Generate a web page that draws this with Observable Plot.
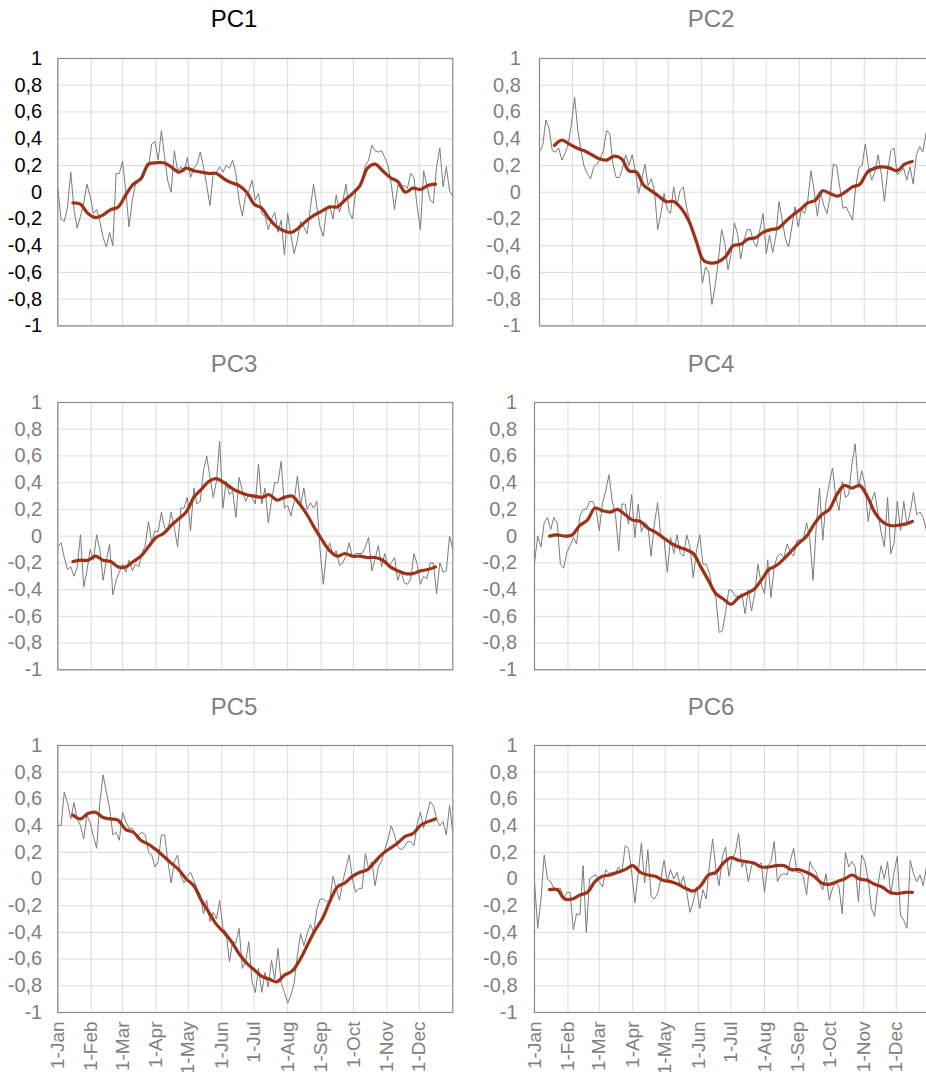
<!DOCTYPE html>
<html>
<head>
<meta charset="utf-8">
<script src="https://cdn.jsdelivr.net/npm/d3@7"></script>
<script src="https://cdn.jsdelivr.net/npm/@observablehq/plot@0.6"></script>
<style>
html, body { margin: 0; padding: 0; background: #fff; overflow: hidden; }
#chart { position: relative; width: 926px; height: 1072px; overflow: hidden; font-family: "Liberation Sans", Arial, sans-serif; }
.title { position: absolute; font-size: 24px; line-height: 24px; white-space: nowrap; transform: translateX(-50%); z-index: 2; }
.panel { position: absolute; z-index: 1; }
</style>
</head>
<body>
<div id="chart"></div>
<script>
// ---- Data ----
// Daily series sampled every 3 days from 1 Jan (leap year), smoothed series every 7 days from day 14.
const grayStepDays = 3;
const redStartDay = 14;
const redStepDays = 7;

const monthLabels = ["1-Jan","1-Feb","1-Mar","1-Apr","1-May","1-Jun","1-Jul","1-Aug","1-Sep","1-Oct","1-Nov","1-Dec"];
const yTicks = [-1, -0.8, -0.6, -0.4, -0.2, 0, 0.2, 0.4, 0.6, 0.8, 1];
const titles = ["PC1", "PC2", "PC3", "PC4", "PC5", "PC6"];

const pc1Gray = [0.03,-0.2,-0.22,-0.11,0.15,-0.13,-0.27,-0.18,-0.08,0.06,
-0.03,-0.16,-0.13,-0.22,-0.34,-0.41,-0.3,-0.4,0.14,0.14,
0.23,0.01,-0.26,-0.06,0.06,0.09,0.13,0.18,0.19,0.36,
0.38,0.24,0.46,0.26,0.08,0,0.31,0.16,0.19,0.15,
0.26,0.11,0.18,0.21,0.3,0.19,0.05,-0.1,0.14,0.15,
0.19,0.15,0.2,0.18,0.24,0.14,-0.06,-0.18,-0.02,0.01,
0.09,-0.06,-0.01,-0.16,-0.18,-0.28,-0.2,-0.15,-0.3,-0.21,
-0.47,-0.16,-0.32,-0.46,-0.36,-0.22,-0.26,-0.31,-0.12,0.06,
-0.11,-0.26,-0.33,-0.13,-0.1,-0.2,-0.02,-0.15,-0.07,0.06,
-0.15,-0.2,0,0.04,0.08,0.2,0.24,0.35,0.31,0.3,
0.31,0.26,0.2,0.06,-0.13,0.05,0.04,0.05,0.03,0.14,
0.11,-0.11,-0.28,0.16,0.05,-0.06,-0.08,0.19,0.33,0.04,
0.19,0.01,-0.03];
const pc1Red = [-0.08,-0.09,-0.16,-0.19,-0.17,-0.13,-0.11,-0.02,0.06,0.1,
0.21,0.22,0.22,0.19,0.15,0.18,0.16,0.15,0.14,0.14,
0.1,0.07,0.05,0,-0.09,-0.12,-0.2,-0.26,-0.29,-0.3,
-0.26,-0.21,-0.17,-0.14,-0.11,-0.11,-0.06,-0.01,0.05,0.18,
0.21,0.16,0.11,0.08,0,0.03,0.02,0.05,0.06];

const pc2Gray = [0.3,0.35,0.54,0.48,0.31,0.3,0.33,0.24,0.29,0.36,
0.51,0.71,0.46,0.31,0.19,0.14,0.1,0.19,0.21,0.25,
0.31,0.46,0.44,0.21,0.11,0.11,0.18,0.28,0.2,0.28,
0.16,-0.01,0.09,0.21,0.05,0.1,0.01,-0.28,-0.16,-0.01,
-0.13,-0.16,0.04,-0.1,0.01,0.04,-0.11,-0.21,-0.28,-0.38,
-0.41,-0.68,-0.56,-0.6,-0.84,-0.7,-0.51,-0.28,-0.38,-0.58,
-0.46,-0.23,-0.31,-0.5,-0.36,-0.28,-0.28,-0.37,-0.41,-0.28,
-0.16,-0.46,-0.32,-0.45,-0.33,-0.07,-0.21,-0.35,-0.41,-0.26,
-0.11,-0.26,-0.13,-0.16,-0.06,0.16,0.01,-0.18,0,-0.1,
-0.16,-0.03,0.21,0.2,0.04,-0.12,-0.11,-0.16,-0.21,0.04,
0.18,0.2,0.36,0.19,0.09,0.15,0.28,0.14,-0.07,0.16,
0.31,0.33,0.13,0.15,0.18,0.09,0.19,0.06,0.28,0.34,
0.3,0.44,0.46];
const pc2Red = [0.35,0.39,0.36,0.33,0.31,0.28,0.25,0.24,0.27,0.25,
0.16,0.15,0.05,0.01,-0.03,-0.07,-0.07,-0.12,-0.21,-0.36,
-0.51,-0.53,-0.52,-0.48,-0.4,-0.39,-0.35,-0.34,-0.3,-0.28,
-0.27,-0.22,-0.17,-0.13,-0.08,-0.06,0.01,-0.01,-0.03,0,
0.04,0.06,0.15,0.18,0.19,0.18,0.16,0.21,0.23];

const pc3Gray = [-0.08,-0.05,-0.16,-0.25,-0.23,-0.3,-0.23,0.01,-0.38,-0.26,
-0.1,-0.18,0.01,-0.1,-0.33,-0.18,-0.06,-0.44,-0.33,-0.27,
-0.21,-0.27,-0.18,-0.26,-0.21,-0.23,-0.13,-0.07,0.11,-0.05,
0.04,0.03,0.18,0.06,0.04,0.18,0.06,-0.08,0.21,0.21,
0.29,0.04,0.36,0.24,0.26,0.49,0.6,0.44,0.29,0.41,
0.71,0.21,0.41,0.31,0.34,0.14,0.44,0.34,0.26,0.31,
0.29,0.24,0.54,0.24,0.36,0.1,0.26,0.4,0.4,0.56,
0.21,0.23,0.15,0.26,0.45,0.23,0.36,0.2,0.25,0.21,
0.26,-0.1,-0.36,-0.12,-0.05,-0.15,-0.11,-0.22,-0.2,-0.15,
-0.05,-0.16,-0.13,-0.13,-0.13,-0.08,-0.01,-0.26,-0.17,-0.07,
-0.23,-0.13,-0.23,-0.2,-0.16,-0.33,-0.26,-0.35,-0.36,-0.32,
-0.13,-0.21,-0.36,-0.3,-0.32,-0.2,-0.2,-0.43,-0.2,-0.27,
-0.26,0,-0.1];
const pc3Red = [-0.19,-0.18,-0.18,-0.15,-0.18,-0.19,-0.23,-0.23,-0.19,-0.15,
-0.08,-0.01,0.02,0.08,0.13,0.18,0.29,0.35,0.41,0.43,
0.4,0.36,0.33,0.31,0.3,0.29,0.31,0.27,0.29,0.3,
0.24,0.16,0.06,-0.03,-0.11,-0.15,-0.13,-0.15,-0.15,-0.16,
-0.16,-0.18,-0.23,-0.26,-0.28,-0.28,-0.26,-0.25,-0.23];

const pc4Gray = [-0.2,0,-0.08,0.1,0.14,0.05,0.14,0.1,-0.21,-0.24,
-0.12,-0.07,-0.01,-0.06,0.15,0.2,0.2,0.26,0.26,0.2,
0.04,0.25,0.34,0.46,0.26,0.16,-0.11,0.24,0.24,0.09,
0.31,-0.01,0.24,0.03,0.1,0.08,-0.15,0.09,0.25,-0.01,
-0.02,-0.27,-0.01,-0.13,0.01,-0.13,-0.15,0.01,-0.08,-0.31,
-0.11,0.01,-0.21,-0.21,-0.28,-0.4,-0.46,-0.72,-0.71,-0.57,
-0.4,-0.41,-0.45,-0.45,-0.43,-0.58,-0.4,-0.56,-0.43,-0.21,
-0.36,-0.43,-0.18,-0.46,-0.23,-0.15,-0.13,-0.16,-0.06,-0.12,
-0.15,-0.03,-0.03,-0.02,0.1,-0.02,-0.33,0.08,0.36,-0.03,
0.26,0.39,0.51,0.3,0.19,0.41,0.29,0.31,0.54,0.69,
0.36,0.49,0.39,0.11,0.26,0.33,0.18,0.03,-0.08,0.29,
-0.13,-0.05,0.26,0.04,0.26,0.08,0.18,0.33,0.16,0.18,
0.14,0.04,0.01];
const pc4Red = [0,0.01,0,0.01,0.08,0.12,0.21,0.19,0.18,0.2,
0.16,0.12,0.11,0.06,0.03,-0.01,-0.05,-0.08,-0.1,-0.13,
-0.23,-0.33,-0.43,-0.47,-0.51,-0.46,-0.43,-0.4,-0.33,-0.25,
-0.22,-0.17,-0.11,-0.05,0,0.09,0.16,0.2,0.31,0.38,
0.36,0.38,0.3,0.18,0.11,0.08,0.08,0.09,0.11];

const pc5Gray = [0.4,0.4,0.65,0.57,0.45,0.57,0.45,0.4,0.3,0.48,
0.42,0.32,0.23,0.58,0.78,0.65,0.53,0.33,0.35,0.29,
0.5,0.43,0.38,0.38,0.33,0.33,0.35,0.33,0.2,0.18,
0.09,0.13,0.33,0.33,0.13,-0.03,0.13,0.18,0.02,-0.03,
0.02,0.05,-0.01,-0.07,-0.12,-0.26,-0.16,-0.32,-0.25,-0.3,
-0.16,-0.37,-0.4,-0.62,-0.47,-0.48,-0.37,-0.67,-0.62,-0.47,
-0.77,-0.85,-0.67,-0.85,-0.7,-0.81,-0.61,-0.75,-0.52,-0.78,
-0.85,-0.93,-0.87,-0.78,-0.57,-0.41,-0.5,-0.41,-0.34,-0.4,
-0.23,-0.15,-0.15,-0.17,-0.16,0.02,-0.07,-0.16,-0.02,0.08,
0.18,0,-0.1,-0.07,-0.07,0.19,0.08,0.13,-0.05,0.09,
0.13,0.22,0.3,0.4,0.33,0.24,0.22,0.24,0.28,0.28,
0.25,0.41,0.5,0.38,0.48,0.58,0.55,0.45,0.4,0.43,
0.33,0.55,0.35];
const pc5Red = [0.48,0.45,0.49,0.5,0.46,0.45,0.44,0.37,0.35,0.29,
0.26,0.22,0.17,0.12,0.07,0,-0.05,-0.16,-0.25,-0.34,
-0.4,-0.47,-0.56,-0.63,-0.68,-0.73,-0.75,-0.77,-0.72,-0.69,
-0.61,-0.5,-0.39,-0.3,-0.17,-0.06,-0.03,0.02,0.05,0.07,
0.13,0.19,0.23,0.27,0.32,0.34,0.4,0.43,0.45];

const pc6Gray = [-0.02,-0.37,-0.15,0.18,0,-0.02,-0.07,-0.07,-0.07,-0.15,
-0.1,-0.1,-0.38,-0.26,-0.27,0.1,-0.4,0,0.02,0.03,
-0.02,-0.06,0.07,0.04,0.05,0.05,0.09,0.05,0.25,0.23,
0.05,-0.18,0.04,0.27,-0.03,0.22,-0.13,-0.15,-0.11,0,
0.14,-0.02,0.07,0,0.05,-0.05,0.02,-0.1,-0.25,-0.17,
-0.06,-0.22,-0.08,-0.15,0.1,0.3,0.07,-0.05,0.17,0.24,
0.02,0.15,0.2,0.34,0.09,0.14,-0.02,0.1,0.13,0.1,
0.12,-0.1,0.1,0.13,0.28,-0.02,0.03,0.04,0.03,0.14,
0.23,0.05,0.05,0.02,-0.12,0.13,0.08,0.05,-0.03,-0.08,
0.04,-0.16,-0.07,-0.02,-0.06,-0.26,0.2,0.09,0.13,0.09,
-0.17,0.18,0.13,0,-0.22,-0.28,-0.05,0.1,0,0.13,
-0.12,0.05,0.17,-0.27,-0.31,-0.37,0.14,0.04,-0.02,0.03,
-0.05,0.09,0.09];
const pc6Red = [-0.08,-0.08,-0.15,-0.15,-0.12,-0.1,-0.02,0.02,0.03,0.05,
0.07,0.1,0.05,0.03,0.02,-0.01,-0.02,-0.04,-0.07,-0.09,
-0.05,0.03,0.05,0.12,0.16,0.14,0.13,0.12,0.09,0.09,
0.1,0.1,0.07,0.07,0.05,0.02,-0.03,-0.04,-0.02,0,
0.03,0,-0.01,-0.04,-0.06,-0.1,-0.11,-0.1,-0.1];

// ---- Layout ----
const grayColor = "#7a7a7a";
const redColor = "#9c3318";
const gridColor = "#dcdcdc";
const frameColor = "#8a8a8a";
const labelGray = "#7f7f7f";
const yTickFont = 20;
const xTickFont = 19;

const panels = [
  {gray: pc1Gray, red: pc1Red, left: 0,   titleX: 234, titleTop: 7,   plotTop: 58.3,  plotH: 267.4, mL: 57.3, plotW: 395,   pad: 15.6, ink: "#000", titleInk: "#000", xAxis: false},
  {gray: pc2Gray, red: pc2Red, left: 463, titleX: 711, titleTop: 7,   plotTop: 58.3,  plotH: 267.4, mL: 76,   plotW: 389.7, pad: 18.7, ink: labelGray, titleInk: labelGray, xAxis: false},
  {gray: pc3Gray, red: pc3Red, left: 0,   titleX: 234, titleTop: 352, plotTop: 401.7, plotH: 267.3, mL: 57.3, plotW: 395,   pad: 15.6, ink: labelGray, titleInk: labelGray, xAxis: false},
  {gray: pc4Gray, red: pc4Red, left: 463, titleX: 711, titleTop: 352, plotTop: 401.7, plotH: 267.3, mL: 71,   plotW: 395.2, pad: 17.5, ink: labelGray, titleInk: labelGray, xAxis: false},
  {gray: pc5Gray, red: pc5Red, left: 0,   titleX: 234, titleTop: 695, plotTop: 745.3, plotH: 267,   mL: 57.3, plotW: 395,   pad: 15.6, ink: labelGray, titleInk: labelGray, xAxis: true},
  {gray: pc6Gray, red: pc6Red, left: 463, titleX: 711, titleTop: 695, plotTop: 745.3, plotH: 267,   mL: 71,   plotW: 395.2, pad: 17.0, ink: labelGray, titleInk: labelGray, xAxis: true}
];

const t0 = Date.UTC(2020, 0, 1);
const dayMs = 86400000;
const xDomain = [new Date(t0), new Date(Date.UTC(2021, 0, 1))];
const monthDates = d3.utcMonths(new Date(t0), new Date(Date.UTC(2021, 0, 1)));

function fmt(v) {
  return String(Math.round(v * 10) / 10).replace(".", ",");
}

const chart = document.getElementById("chart");

panels.forEach((p, idx) => {
  const grayData = p.gray.map((v, i) => ({date: new Date(t0 + i * grayStepDays * dayMs), v}));
  const redData = p.red.map((v, k) => ({date: new Date(t0 + (redStartDay + k * redStepDays) * dayMs), v}));
  const marginTop = 20;
  const marginBottom = p.xAxis ? 80 : 10;
  const marginRight = 10;
  const width = p.mL + p.plotW + marginRight;
  const height = marginTop + p.plotH + marginBottom;

  const svg = Plot.plot({
    width, height,
    marginLeft: p.mL, marginRight, marginTop, marginBottom,
    style: {fontFamily: "'Liberation Sans', Arial, sans-serif", fontSize: yTickFont + "px", background: "white", overflow: "visible"},
    x: {type: "utc", domain: xDomain, axis: null},
    y: {domain: [-1, 1], axis: null},
    marks: [
      Plot.gridY(yTicks, {stroke: gridColor, strokeOpacity: 1, strokeWidth: 1}),
      Plot.gridX(monthDates, {stroke: gridColor, strokeOpacity: 1, strokeWidth: 1}),
      Plot.line(grayData, {x: "date", y: "v", stroke: grayColor, strokeWidth: 1}),
      Plot.line(redData, {x: "date", y: "v", stroke: redColor, strokeWidth: 3.2, curve: "catmull-rom"}),
      Plot.frame({stroke: frameColor, strokeWidth: 1.2}),
      Plot.axisY(yTicks, {tickSize: 0, tickPadding: p.pad, tickFormat: fmt, fill: p.ink, label: null, fontSize: yTickFont, fontVariant: "normal"}),
      p.xAxis ? Plot.axisX(monthDates, {tickSize: 0, tickRotate: -90, tickPadding: 9, tickFormat: d => monthLabels[d.getUTCMonth()], fill: labelGray, label: null, fontSize: xTickFont, fontVariant: "normal"}) : null
    ]
  });
  svg.classList.add("panel");
  svg.style.left = p.left + "px";
  svg.style.top = (p.plotTop - marginTop) + "px";
  chart.appendChild(svg);

  const t = document.createElement("div");
  t.className = "title";
  t.textContent = titles[idx];
  t.style.left = p.titleX + "px";
  t.style.top = p.titleTop + "px";
  t.style.color = p.titleInk;
  chart.appendChild(t);
});
</script>
</body>
</html>
